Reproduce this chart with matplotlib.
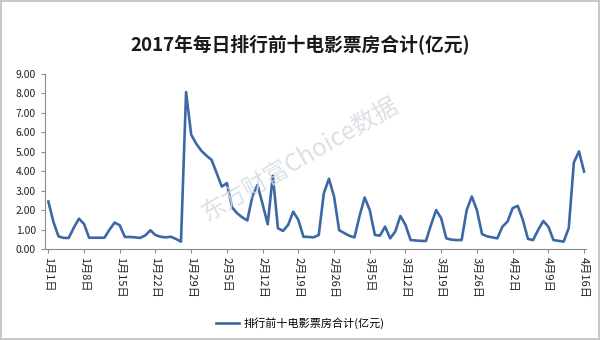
import datetime as dt
import matplotlib
matplotlib.use("Agg")
import matplotlib.pyplot as plt

plt.rcParams['font.family'] = ['Noto Sans CJK SC', 'DejaVu Sans']

# 数据：2017-01-01 起每日票房（亿元）
start = dt.date(2017, 1, 1)
values = [
    2.44, 1.40, 0.65, 0.57, 0.57, 1.10, 1.56, 1.29, 0.58, 0.58,
    0.58, 0.58, 1.00, 1.36, 1.22, 0.62, 0.62, 0.60, 0.57, 0.70,
    0.96, 0.72, 0.63, 0.60, 0.63, 0.52, 0.38, 8.07, 5.88, 5.41,
    5.05, 4.80, 4.58, 3.90, 3.21, 3.39, 2.15, 1.84, 1.63, 1.47,
    2.71, 3.30, 2.30, 1.27, 3.78, 1.07, 0.93, 1.24, 1.92, 1.50,
    0.63, 0.62, 0.60, 0.72, 2.87, 3.61, 2.70, 0.97, 0.82, 0.68,
    0.60, 1.70, 2.65, 2.00, 0.72, 0.69, 1.15, 0.55, 0.90, 1.70,
    1.24, 0.46, 0.44, 0.42, 0.41, 1.24, 2.00, 1.58, 0.55, 0.48,
    0.46, 0.46, 2.01, 2.70, 2.00, 0.77, 0.65, 0.60, 0.55, 1.15,
    1.41, 2.10, 2.22, 1.50, 0.52, 0.46, 0.98, 1.44, 1.15, 0.46,
    0.42, 0.38, 1.08, 4.45, 5.02, 3.98,
]
days = list(range(len(values)))
tick_pos = days[::7]
tick_labels = [f"{(start + dt.timedelta(d)).month}月{(start + dt.timedelta(d)).day}日" for d in tick_pos]
y_ticks = [0, 1, 2, 3, 4, 5, 6, 7, 8, 9]

title = "2017年每日排行前十电影票房合计(亿元)"
series_name = "排行前十电影票房合计(亿元)"

fig = plt.figure(figsize=(6, 3.4), dpi=100)
fig.patch.set_edgecolor('#c8c8c8')
fig.patch.set_linewidth(1.5)

ax = fig.add_axes([0.075, 0.2676, 0.901, 0.5148])
line, = ax.plot(days, values, color='#3d68a6', lw=1.9, label=series_name)

ax.set_xlim(-0.65, 105.3)
ax.set_ylim(0, 9)
ax.set_yticks(y_ticks)
ax.set_yticklabels([f"{v:.2f}" for v in y_ticks], fontsize=7.5, color='#222222')
ax.set_xticks(tick_pos)
ax.set_xticklabels(tick_labels, rotation=-90, fontsize=8, color='#222222')

for s in ['top', 'right']:
    ax.spines[s].set_visible(False)
for s in ['left', 'bottom']:
    ax.spines[s].set_color('#8c8c8c')
    ax.spines[s].set_linewidth(0.8)
ax.tick_params(axis='both', colors='#8c8c8c', length=3, width=0.8, labelcolor='#222222')
ax.tick_params(axis='x', pad=3)

fig.text(0.5, 0.868, title, ha='center', va='center', fontsize=13.5, fontweight='bold', color='#1a1a1a')

# 水印
fig.text(0.5, 0.53, "东方财富Choice数据", ha='center', va='center', rotation=30,
         fontsize=17.5, color='#d6dbe0', alpha=0.85)

fig.legend(handles=[line], loc='center', bbox_to_anchor=(0.5, 0.05), frameon=False,
           fontsize=8, handlelength=2.1, handletextpad=0.4)

fig.savefig('out.png', dpi=100)
